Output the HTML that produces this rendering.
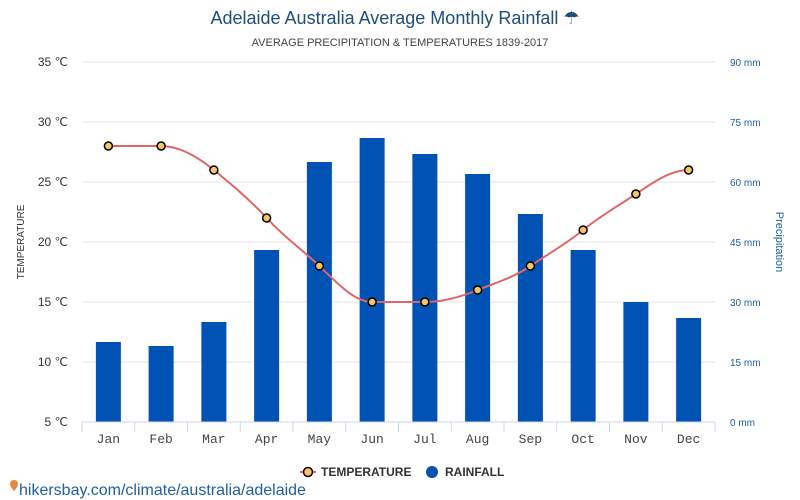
<!DOCTYPE html>
<html><head><meta charset="utf-8">
<style>
body{margin:0;background:#fff;width:800px;height:500px;overflow:hidden;font-family:"Liberation Sans",sans-serif;}
svg{display:block}
</style></head>
<body>
<svg id="chart" width="800" height="500" xmlns="http://www.w3.org/2000/svg">
<text x="395" y="24" text-anchor="middle" font-size="18" fill="#1f4e79">Adelaide Australia Average Monthly Rainfall ☂</text>
<text x="400" y="46" text-anchor="middle" font-size="11" fill="#444">AVERAGE PRECIPITATION &amp; TEMPERATURES 1839-2017</text>
<text transform="translate(24,242) rotate(-90)" text-anchor="middle" font-size="10" fill="#333">TEMPERATURE</text>
<text transform="translate(776,242) rotate(90)" text-anchor="middle" font-size="11" fill="#1f5f9e">Precipitation</text>
<g id="grid"></g><g id="bars"></g><g id="axis"></g><g id="line"></g>
<g>
<g>
<line x1="300" y1="472" x2="316" y2="472" stroke="#e06666" stroke-width="2"/>
<circle cx="308" cy="472" r="4.5" fill="#f6c26b" stroke="#000" stroke-width="1.5"/>
<text x="321" y="476" font-size="12" font-weight="bold" fill="#333">TEMPERATURE</text></g>
<g>
<circle cx="432" cy="472" r="6" fill="#0052b4"/>
<text x="445" y="476" font-size="12" font-weight="bold" fill="#333">RAINFALL</text></g>
</g>
<g>
<path d="M10,484 a4,4 0 1,1 8,0 c0,3 -4,7 -4,7 c0,0 -4,-4 -4,-7z" fill="#e8883a"/>
<text x="19" y="495" font-size="16" fill="#1f5f9e">hikersbay.com/climate/australia/adelaide</text></g>
</svg>
<script>
const months=["Jan","Feb","Mar","Apr","May","Jun","Jul","Aug","Sep","Oct","Nov","Dec"];
const rainfall=[20,19,25,43,65,71,67,62,52,43,30,26];
const temperature=[28,28,26,22,18,15,15,16,18,21,24,26];
const tempTicks=[5,10,15,20,25,30,35];
const rainTicks=[0,15,30,45,60,75,90];
const NS="http://www.w3.org/2000/svg";
const X0=82,X1=715,Y0=422,Y1=62;
const bw=(X1-X0)/months.length;
const xc=i=>X0+bw*(i+0.5);
const yT=t=>Y0-(t-5)/30*(Y0-Y1);
const yR=r=>Y0-r/90*(Y0-Y1);
function mk(tag,attrs,parent){const e=document.createElementNS(NS,tag);for(const k in attrs)e.setAttribute(k,attrs[k]);parent.appendChild(e);return e;}
const grid=document.getElementById('grid'),bars=document.getElementById('bars'),axis=document.getElementById('axis'),line=document.getElementById('line');
tempTicks.forEach((t,i)=>{const y=yT(t);
 const g=mk('line',{x1:X0,x2:X1,y1:y,y2:y,stroke:'#e6e6e6','stroke-width':1},grid);
 
 
 const l=mk('text',{x:68,y:y+4,'text-anchor':'end','font-size':12,fill:'#333'},axis);l.textContent=t+' ℃';
 
 
 const r=mk('text',{x:730,y:y+4,'font-size':10,fill:'#1f5f9e'},axis);r.textContent=rainTicks[i]+' mm';
 
 
});
rainfall.forEach((v,i)=>{
 const b=mk('rect',{x:xc(i)-12.5,y:yR(v),width:25,height:Y0-yR(v),fill:'#0052b4'},bars);
 
 
});
mk('line',{x1:X0,x2:X1,y1:Y0,y2:Y0,stroke:'#ccd6eb'},axis);
for(let i=0;i<=months.length;i++){mk('line',{x1:X0+bw*i,x2:X0+bw*i,y1:Y0,y2:Y0+10,stroke:'#ccd6eb'},axis);}
months.forEach((m,i)=>{const t=mk('text',{x:xc(i),y:443,'text-anchor':'middle','font-size':13,'font-family':'Liberation Mono, monospace',fill:'#444'},axis);t.textContent=m;
 
 });
// smooth line (monotone-ish cardinal)
const pts=temperature.map((t,i)=>[xc(i),yT(t)]);
let d='M'+pts[0][0]+','+pts[0][1];
for(let i=0;i<pts.length-1;i++){const p0=pts[Math.max(0,i-1)],p1=pts[i],p2=pts[i+1],p3=pts[Math.min(pts.length-1,i+2)];
 const k=0.2;
 let c1y=p1[1]+(p2[1]-p0[1])*k,c2y=p2[1]-(p3[1]-p1[1])*k;
 if((p1[1]-p0[1])*(p2[1]-p1[1])<=0)c1y=p1[1];
 if((p2[1]-p1[1])*(p3[1]-p2[1])<=0)c2y=p2[1];
 const c1x=p1[0]+bw/3,c2x=p2[0]-bw/3;
 d+=' C'+c1x+','+c1y+' '+c2x+','+c2y+' '+p2[0]+','+p2[1];}
const path=mk('path',{d:d,fill:'none',stroke:'#e06666','stroke-width':2},line);


pts.forEach((p,i)=>{const c=mk('circle',{cx:p[0],cy:p[1],r:4,fill:'#f6c26b',stroke:'#000','stroke-width':1.5},line);
 
 });
</script>
</body></html>
